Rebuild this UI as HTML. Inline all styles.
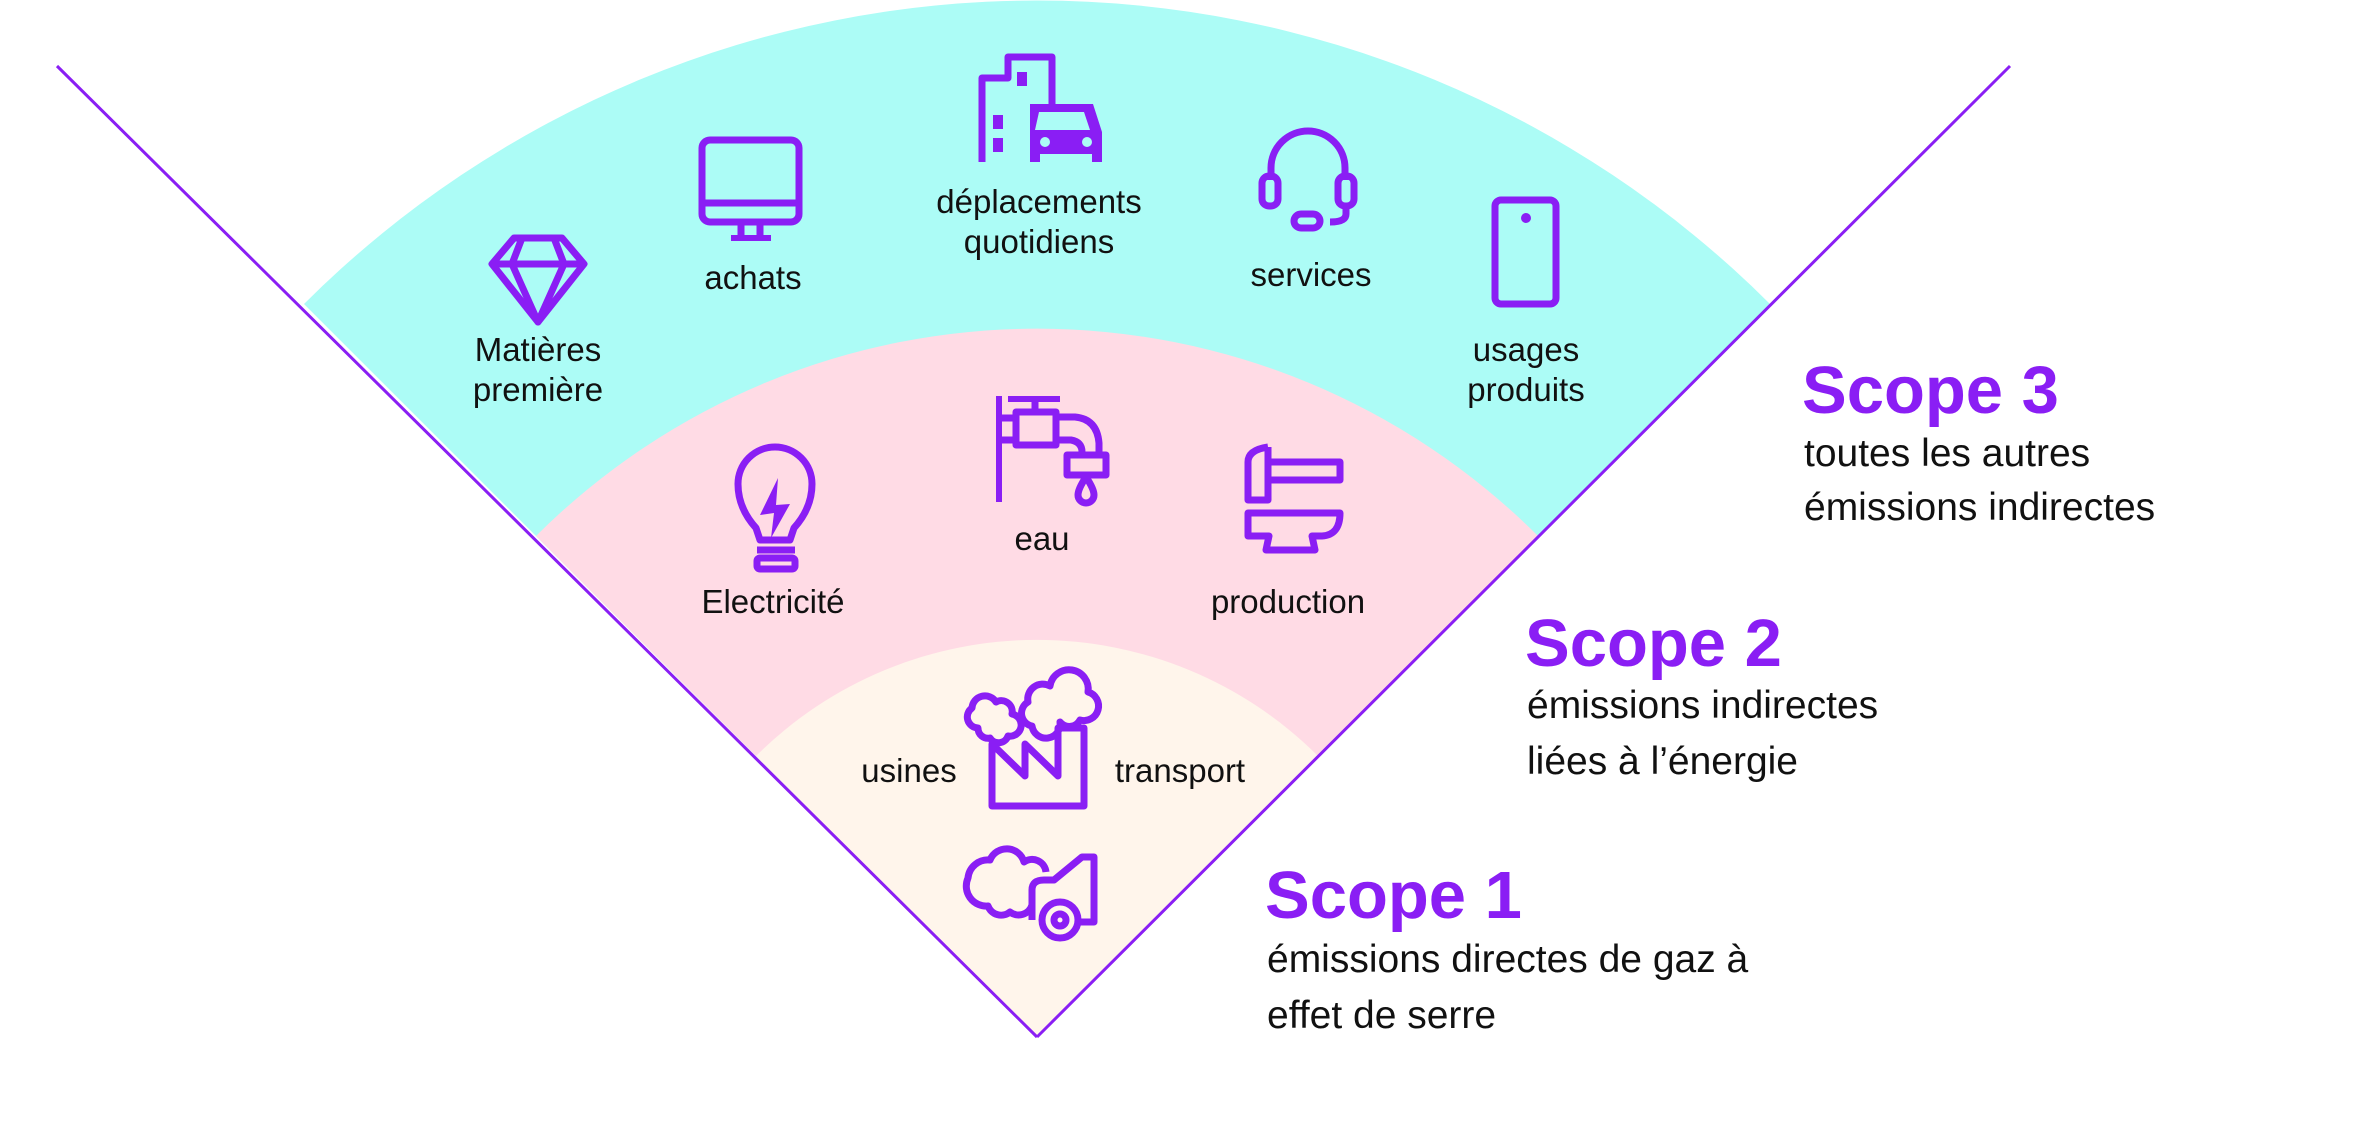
<!DOCTYPE html>
<html><head><meta charset="utf-8"><style>
html,body{margin:0;padding:0;background:#fff;}
svg{display:block;}
text{font-family:"Liberation Sans",sans-serif;}
.l{font-size:33px;fill:#111;text-anchor:middle;}
.h{font-size:67px;font-weight:bold;fill:#8a1ef4;}
.d{font-size:39px;fill:#111;}
.i{fill:none;stroke:#8a1ef4;stroke-width:7;stroke-linejoin:round;}
.f{fill:#8a1ef4;}
</style></head><body>
<svg width="2357" height="1132" viewBox="0 0 2357 1132" xmlns="http://www.w3.org/2000/svg">
<path d="M1037 1037 L304 304 A1037 1037 0 0 1 1770 304 Z" fill="#acfcf6"/>
<path d="M1037 1037 L536 536 A709 709 0 0 1 1538 536 Z" fill="#ffdbe5"/>
<path d="M1037 1037 L756 756 A398 398 0 0 1 1318 756 Z" fill="#fff5eb"/>
<line x1="57" y1="66" x2="1037" y2="1037" stroke="#8a1ef4" stroke-width="3"/>
<line x1="2010" y1="66" x2="1037" y2="1037" stroke="#8a1ef4" stroke-width="3"/>

<!-- diamond -->
<g class="i"><path d="M514 238 L562 238 L584 264 L538 322 L492 264 Z"/><path d="M492 264 L584 264 M522 238 L512 264 L538 322 L564 264 L554 238"/></g>
<!-- monitor -->
<g class="i"><rect x="702" y="140" width="97" height="82" rx="8"/><line x1="702" y1="203" x2="799" y2="203"/><path d="M741 222 V236 M760 222 V236"/><line x1="731" y1="238" x2="771" y2="238" stroke-width="6"/></g>
<!-- building + car -->
<g class="i"><path d="M982 162 V78 H1008 V57 H1052 V104"/></g>
<rect class="f" x="1017" y="72" width="10" height="14"/>
<rect class="f" x="993" y="115" width="10" height="14"/><rect class="f" x="993" y="138" width="10" height="14"/>
<path class="f" d="M1030 104 H1093 L1102 132 V162 H1092 V154 H1040 V162 H1030 V132 Z"/>
<path d="M1039 112 H1084 L1090 130 H1035 Z" fill="#acfcf6"/>
<circle cx="1045" cy="142" r="5" fill="#acfcf6"/><circle cx="1087" cy="142" r="5" fill="#acfcf6"/>
<!-- headset -->
<g class="i"><path d="M1271 180 V168 A37 37 0 0 1 1345 168 V180"/><rect x="1262" y="176" width="16" height="30" rx="7"/><rect x="1338" y="176" width="16" height="30" rx="7"/><path d="M1346 206 V214 Q1346 222 1330 222"/><rect x="1294" y="214" width="26" height="14" rx="7"/></g>
<!-- phone -->
<g class="i"><rect x="1495" y="200" width="61" height="104" rx="6"/></g><circle class="f" cx="1526" cy="218" r="5"/>
<!-- bulb -->
<g transform="translate(0,12)">
<g class="i"><path d="M760 528 L756 516 Q738 496 738 472 A37 37 0 0 1 812 472 Q812 496 794 516 L790 528 Z"/><line x1="757" y1="538" x2="795" y2="538"/><rect x="757" y="546" width="38" height="11" rx="3"/></g>
<path class="f" d="M778 466 L760 503 L774 501 L771 526 L790 492 L776 493 Z"/>
</g>
<!-- tap -->
<g class="i"><line x1="999" y1="396" x2="999" y2="502" stroke-width="6"/><line x1="1008" y1="399" x2="1060" y2="399" stroke-width="6"/><line x1="1035" y1="399" x2="1035" y2="412"/><rect x="1016" y="412" width="40" height="33"/><path d="M1000 418 H1016 M1000 440 H1016"/><path d="M1056 417 H1075 Q1097 419 1099 443 V455 M1056 440 H1071 Q1082 442 1082 452 V455"/><rect x="1067" y="455" width="39" height="20"/><path d="M1086 477 Q1078 489 1078 495 A8 8 0 0 0 1094 495 Q1094 489 1086 477 Z"/></g>
<!-- anvil -->
<g class="i" stroke-width="6"><path d="M1268 447 V500 H1248 V462 Q1248 450 1268 447"/><rect x="1268" y="462" width="72" height="18"/><path d="M1248 513 H1340 Q1340 535 1322 536 H1312 L1315 550 H1266 L1269 536 H1248 Z"/></g>
<!-- factory -->
<g class="i"><path d="M992 806 V744 L1025 776 V744 L1058 776 V728 H1084 V806 Z"/></g>
<g class="i" stroke-width="6">
<path d="M978 728 A11 11 0 0 1 972 708 A13 13 0 0 1 996 702 A11 11 0 0 1 1012 714 A11 11 0 0 1 1008 736 A10 10 0 0 1 990 738 A10 10 0 0 1 978 728 Z"/>
<path d="M1032 726 A13 13 0 0 1 1028 702 A15 15 0 0 1 1050 686 A18 18 0 0 1 1088 692 A14 14 0 0 1 1080 720 A12 12 0 0 1 1060 722 A12 12 0 0 1 1032 726 Z"/>
</g>
<!-- car cloud -->
<g class="i" stroke-width="6"><path d="M1032 905 A14 14 0 0 1 1010 912 A14 14 0 0 1 988 906 A20 20 0 0 1 968 878 A20 20 0 0 1 990 860 A18 18 0 0 1 1024 862 A14 14 0 0 1 1046 872"/><path d="M1032 920 V890 Q1032 880 1044 880 H1054 L1082 857 H1094 V922 H1080"/><circle cx="1060" cy="920" r="18"/><circle cx="1060" cy="920" r="6"/></g>

<!-- labels -->
<text class="l" x="538" y="361">Matières</text><text class="l" x="538" y="401">première</text>
<text class="l" x="753" y="289">achats</text>
<text class="l" x="1039" y="213">déplacements</text><text class="l" x="1039" y="253">quotidiens</text>
<text class="l" x="1311" y="286">services</text>
<text class="l" x="1526" y="361">usages</text><text class="l" x="1526" y="401">produits</text>
<text class="l" x="773" y="613">Electricité</text>
<text class="l" x="1042" y="550">eau</text>
<text class="l" x="1288" y="613">production</text>
<text class="l" x="909" y="782">usines</text>
<text class="l" x="1180" y="782">transport</text>

<text class="h" x="1802" y="413">Scope 3</text>
<text class="d" x="1804" y="466">toutes les autres</text>
<text class="d" x="1804" y="520">émissions indirectes</text>
<text class="h" x="1525" y="666">Scope 2</text>
<text class="d" x="1527" y="718">émissions indirectes</text>
<text class="d" x="1527" y="774">liées à l’énergie</text>
<text class="h" x="1265" y="918">Scope 1</text>
<text class="d" x="1267" y="972">émissions directes de gaz à</text>
<text class="d" x="1267" y="1028">effet de serre</text>
</svg>
</body></html>
